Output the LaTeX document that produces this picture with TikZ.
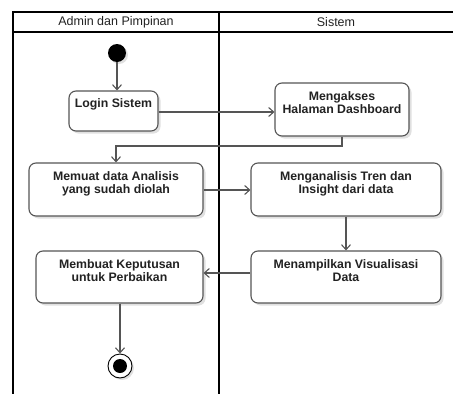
\documentclass[tikz,border=0pt]{standalone}
\usepackage{fontspec}
\setmainfont{Liberation Sans}
\usetikzlibrary{arrows.meta, positioning, shadows}
\definecolor{boxgray}{HTML}{555555}
\definecolor{txtgray}{HTML}{222222}

\begin{document}
\begin{tikzpicture}[
        x=1pt, y=-1pt,
        act/.style={rectangle, draw=boxgray, line width=1.1pt, rounded corners=7pt, fill=white,
            drop shadow={shadow xshift=2.5pt, shadow yshift=-2.5pt, opacity=0.12, fill=black}},
        acttext/.style={inner sep=0pt, align=center, text=txtgray, font=\fontsize{12.3}{13}\selectfont\bfseries},
        lanehead/.style={inner sep=0pt, text=txtgray, font=\fontsize{12.5}{13}\selectfont},
        lane/.style={draw=black, line width=1.3pt},
        flow/.style={draw=boxgray, line width=1.1pt, -{Straight Barb[length=5pt, width=9pt]}},
        startnode/.style={circle, fill=black, minimum size=18pt, inner sep=0pt,
            drop shadow={shadow xshift=2pt, shadow yshift=-2pt, opacity=0.12, fill=black}},
        endnode/.style={circle, draw=black, line width=0.9pt, fill=white, minimum size=24pt, inner sep=0pt,
            drop shadow={shadow xshift=2pt, shadow yshift=-2pt, opacity=0.12, fill=black}}
        ]
        \useasboundingbox (0,0) rectangle (453,394);

        % Swimlanes
        \draw [lane] (13,394) -- (13,12) -- (455,12);
        \draw [lane] (13,32) -- (455,32);
        \draw [lane] (219,12) -- (219,394);
        \node (lane1) [lanehead] at (116,22) {Admin dan Pimpinan};
        \node (lane2) [lanehead] at (336,22) {Sistem};

        % Nodes
        \node (start) [startnode] at (117,53) {};
        \node (login) [act, minimum width=89pt, minimum height=40pt] at (113.5,111) {};
        \node (login-t) [acttext, below=8pt of login.north] {Login Sistem};
        \node (akses) [act, minimum width=134pt, minimum height=53pt] at (342,109.5) {};
        \node (akses-t) [acttext, below=9pt of akses.north] {Mengakses\\Halaman Dashboard};
        \node (memuat) [act, minimum width=174pt, minimum height=53pt] at (116,189.5) {};
        \node (memuat-t) [acttext, below=8.5pt of memuat.north] {Memuat data Analisis\\yang sudah diolah};
        \node (analisis) [act, minimum width=190pt, minimum height=53pt] at (346,189.5) {};
        \node (analisis-t) [acttext, below=8.5pt of analisis.north] {Menganalisis Tren dan\\Insight dari data};
        \node (visual) [act, minimum width=190pt, minimum height=52pt] at (346,277) {};
        \node (visual-t) [acttext, below=8.5pt of visual.north] {Menampilkan Visualisasi\\Data};
        \node (keputusan) [act, minimum width=167pt, minimum height=52pt] at (119.5,277) {};
        \node (keputusan-t) [acttext, below=8.5pt of keputusan.north] {Membuat Keputusan\\untuk Perbaikan};
        \node (end) [endnode] at (120,366) {};
        \node (end-dot) [circle, fill=black, minimum size=14pt, inner sep=0pt] at (end) {};

        % Arrows
        \draw [flow] (start) -- (start |- login.north);
        \draw [flow] (login.east |- 0,112) -- (akses.west |- 0,112);
        \draw [flow] (akses.south) -- (akses.south |- 0,146) -| (memuat.north);
        \draw [flow] (memuat.east |- 0,190) -- (analisis.west |- 0,190);
        \draw [flow] (analisis.south) -- (visual.north);
        \draw [flow] (visual.west |- 0,273) -- (keputusan.east |- 0,273);
        \draw [flow] (keputusan.south -| end) -- (end.north);

    \end{tikzpicture}
\end{document}
